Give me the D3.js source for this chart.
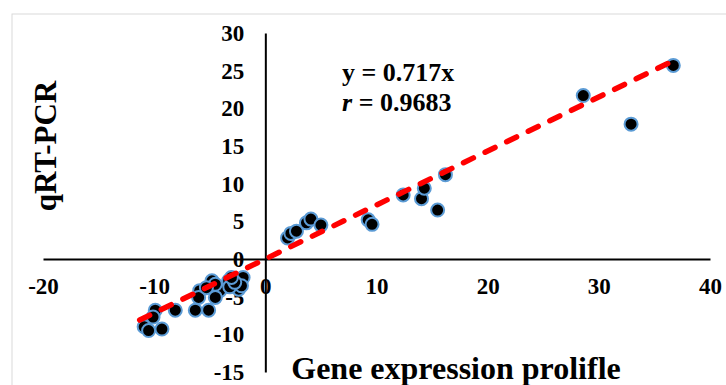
<!DOCTYPE html>
<html>
<head>
<meta charset="utf-8">
<script src="https://cdn.jsdelivr.net/npm/d3@7"></script>
<style>
  body { margin: 0; background: #fff; }
  text { font-family: "Liberation Serif", "Times New Roman", serif; font-weight: bold; fill: #000; }
</style>
</head>
<body>
<script>
// valores (microarray x qRT-PCR)
var geneExpr = [-10.9, -10.5, -9.3, -9.9, -10.1, -8.1, -6.3, -5.1, -5.9, -6.0, -4.8, -4.1, -4.5,
                -3.3, -2.9, -2.1, -2.4, -3.2, -4.5, -5.3, -2.0, -2.15, -2.75, -3.05,
                2.0, 2.3, 2.8, 3.7, 4.1, 5.0, 9.25, 9.6, 12.4, 14.05, 14.3, 15.5, 16.2, 28.6, 32.9, 36.7];
var qrtPcr   = [-9.0, -9.5, -9.3, -6.8, -7.7, -6.8, -6.8, -6.8, -4.2, -5.1, -2.9, -4.2, -5.1,
                -2.9, -3.1, -2.6, -4.0, -3.7, -3.35, -3.8, -2.45, -3.55, -3.1, -2.45,
                2.8, 3.4, 3.7, 4.8, 5.3, 4.5, 5.2, 4.6, 8.5, 8.0, 9.4, 6.5, 11.2, 21.7, 17.9, 25.7];

var xTicks = [-20, -10, 0, 10, 20, 30, 40];
var xTickLabels = ["-20", "-10", "0", "10", "20", "30", "40"];
var yTicks = [-15, -10, -5, 0, 5, 10, 15, 20, 25, 30];
var yTickLabels = ["-15", "-10", "-5", "0", "5", "10", "15", "20", "25", "30"];

// linha de tendencia y = 0.717x
var trendSlope = 0.717;
var trendRange = [-11.3, 36.6];

var svg = d3.select("body").append("svg").attr("width", 726).attr("height", 385);

// borda cinza da area do grafico
svg.append("rect")
   .attr("x", 12).attr("y", 14)
   .attr("width", 730).attr("height", 390)
   .attr("fill", "none").attr("stroke", "#d9d9d9").attr("stroke-width", 1);

// escalas
var x = d3.scaleLinear().domain([-20, 40]).range([43, 710]);
var y = d3.scaleLinear().domain([-15, 30]).range([372, 33]);

// eixo x passando por y = 0
var xAxis = svg.append("g")
               .attr("transform", "translate(0," + y(0) + ")")
               .call(d3.axisBottom(x).tickValues(xTicks).tickSize(0).tickSizeOuter(0).tickPadding(19)
                       .tickFormat(function (d, i) { return xTickLabels[i]; }));

// eixo y passando por x = 0
var yAxis = svg.append("g")
               .attr("transform", "translate(" + x(0) + ",0)")
               .call(d3.axisLeft(y).tickValues(yTicks).tickSize(0).tickSizeOuter(0).tickPadding(21)
                       .tickFormat(function (d, i) { return yTickLabels[i]; }));

svg.selectAll(".domain").attr("stroke", "#000").attr("stroke-width", 2);
svg.selectAll(".tick text")
   .attr("font-family", "Liberation Serif")
   .attr("font-weight", "bold")
   .attr("font-size", 23)
   .attr("fill", "#000");

// pontos
var pontos = svg.append("g").selectAll("circle")
                .data(geneExpr)
                .enter().append("circle")
                .attr("cx", function (d) { return x(d); })
                .attr("cy", function (d, i) { return y(qrtPcr[i]); })
                .attr("r", 6.5)
                .attr("fill", "#000")
                .attr("stroke", "#5b9bd5")
                .attr("stroke-width", 2);

// tendencia tracejada
svg.append("line")
   .attr("x1", x(trendRange[0])).attr("y1", y(trendSlope * trendRange[0]))
   .attr("x2", x(trendRange[1])).attr("y2", y(trendSlope * trendRange[1]))
   .attr("stroke", "#ff0000")
   .attr("stroke-width", 5.5)
   .attr("stroke-dasharray", "11,13")
   .attr("stroke-linecap", "round");

// equacao
var eq = svg.append("text").attr("x", 342).attr("y", 81).attr("font-size", 26);
eq.append("tspan").text("y = 0.717x");
var rr = svg.append("text").attr("x", 342).attr("y", 111).attr("font-size", 26);
rr.append("tspan").attr("font-style", "italic").text("r");
rr.append("tspan").text(" = 0.9683");

// titulos dos eixos
svg.append("text")
   .attr("transform", "translate(56,146) rotate(-90)")
   .attr("text-anchor", "middle")
   .attr("font-size", 31)
   .text("qRT-PCR");

svg.append("text")
   .attr("x", 456).attr("y", 379)
   .attr("text-anchor", "middle")
   .attr("font-size", 32)
   .text("Gene expression prolifle");
</script>
</body>
</html>
